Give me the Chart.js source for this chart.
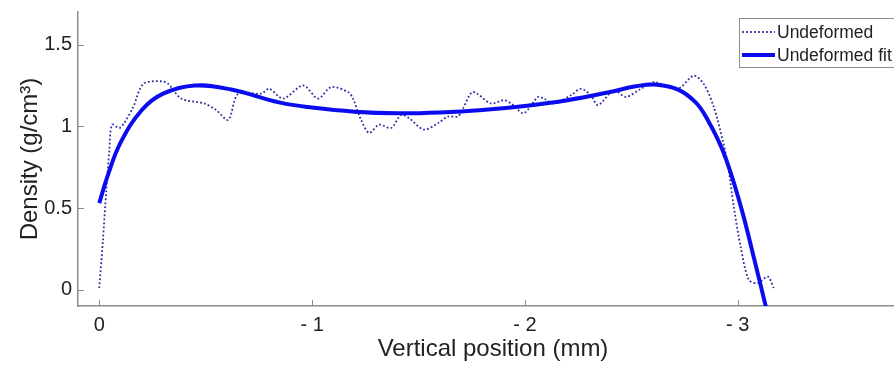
<!DOCTYPE html>
<html>
<head>
<meta charset="utf-8">
<script src="https://cdn.jsdelivr.net/npm/chart.js@4/dist/chart.umd.min.js"></script>
<style>
  html, body { margin: 0; padding: 0; background: #fff; overflow: hidden; }
  #wrap { width: 910px; height: 367px; }
</style>
</head>
<body>
<div id="wrap"><canvas id="densityChart" width="910" height="367"></canvas></div>
<script>
// vertical position (mm) and density (g/cm3)
const rawX = [0, -0.017, -0.033, -0.047, -0.06, -0.094, -0.117, -0.16, -0.207, -0.291, -0.324, -0.385,
  -0.493, -0.549, -0.606, -0.653, -0.761, -0.798, -0.864, -0.958, -1.028, -1.089, -1.169, -1.192,
  -1.23, -1.268, -1.315, -1.371, -1.418, -1.455, -1.526, -1.592, -1.638, -1.685, -1.709, -1.756,
  -1.84, -1.901, -1.934, -1.991, -2.019, -2.061, -2.089, -2.136, -2.216, -2.263, -2.31, -2.343,
  -2.418, -2.474, -2.545, -2.606, -2.718, -2.793, -2.84, -2.887, -2.93, -2.953, -2.981, -3.014,
  -3.052, -3.094, -3.141, -3.169];
const rawY = [0.01, 0.30, 0.61, 0.85, 1.01, 0.99, 1.02, 1.12, 1.26, 1.276, 1.26, 1.17,
  1.14, 1.10, 1.04, 1.20, 1.20, 1.23, 1.17, 1.25, 1.17, 1.24, 1.21, 1.17,
  1.04, 0.96, 1.01, 0.99, 1.07, 1.05, 0.98, 1.02, 1.06, 1.06, 1.11, 1.21,
  1.14, 1.16, 1.14, 1.08, 1.11, 1.18, 1.17, 1.14, 1.19, 1.23, 1.19, 1.13,
  1.22, 1.18, 1.23, 1.27, 1.23, 1.31, 1.26, 1.12, 0.91, 0.77, 0.51, 0.26,
  0.06, 0.04, 0.08, 0.01];

const fitX = [0, -0.04, -0.1, -0.2, -0.3, -0.45, -0.62, -0.85, -1.0, -1.2, -1.4, -1.6, -1.8,
  -2.0, -2.2, -2.4, -2.52, -2.62, -2.72, -2.8, -2.85, -2.93, -3.01, -3.075, -3.135];
const fitY = [0.53, 0.70, 0.90, 1.10, 1.20, 1.25, 1.225, 1.145, 1.115, 1.09, 1.08, 1.085, 1.10,
  1.125, 1.16, 1.21, 1.245, 1.255, 1.225, 1.15, 1.06, 0.85, 0.53, 0.20, -0.12];

const xTicks = [0, -1, -2, -3];
const yTicks = [0, 0.5, 1, 1.5];
const seriesNames = ["Undeformed", "Undeformed fit"];

const axisColor = "#8c8c8c";
const textColor = "#222";
const fontFamily = "'Liberation Sans', Arial, Helvetica, sans-serif";

function toPoints(xs, ys) {
    return xs.map((x, i) => ({ x: x, y: ys[i] }));
}

// little inward tick marks like the original figure
const innerTicks = {
    id: "innerTicks",
    afterDraw(chart) {
        const { ctx, chartArea } = chart;
        const xs = chart.scales.x, ys = chart.scales.y;
        ctx.save();
        ctx.strokeStyle = axisColor;
        ctx.lineWidth = 1;
        xTicks.forEach(v => {
            const px = Math.round(xs.getPixelForValue(v)) + 0.5;
            ctx.beginPath();
            ctx.moveTo(px, chartArea.bottom);
            ctx.lineTo(px, chartArea.bottom - 6);
            ctx.stroke();
        });
        yTicks.forEach(v => {
            const py = Math.round(ys.getPixelForValue(v)) + 0.5;
            ctx.beginPath();
            ctx.moveTo(chartArea.left, py);
            ctx.lineTo(chartArea.left + 6, py);
            ctx.stroke();
        });
        ctx.restore();
    }
};

// boxed legend in the top right corner
const boxLegend = {
    id: "boxLegend",
    afterDraw(chart) {
        const ctx = chart.ctx;
        const sets = chart.data.datasets;
        const left = 739, top = 18, w = 168, h = 49;
        ctx.save();
        ctx.fillStyle = "#fff";
        ctx.fillRect(left, top, w, h);
        ctx.strokeStyle = axisColor;
        ctx.lineWidth = 1;
        ctx.strokeRect(left + 0.5, top + 0.5, w, h);
        ctx.font = "17.5px " + fontFamily;
        ctx.textBaseline = "middle";
        ctx.fillStyle = textColor;
        const rows = [32, 55];
        rows.forEach((y, i) => {
            const ds = sets[i];
            ctx.beginPath();
            ctx.strokeStyle = ds.borderColor;
            ctx.lineWidth = ds.borderWidth;
            ctx.setLineDash(ds.borderDash || []);
            ctx.moveTo(742, y);
            ctx.lineTo(775, y);
            ctx.stroke();
            ctx.setLineDash([]);
            ctx.fillText(ds.label, 777, y + 1);
        });
        ctx.restore();
    }
};

const ctx = document.getElementById("densityChart").getContext("2d");

new Chart(ctx, {
    type: "line",
    data: {
        datasets: [{
            label: seriesNames[0],
            data: toPoints(rawX, rawY),
            borderColor: "#2e2ea6",
            borderWidth: 1.8,
            borderDash: [1.8, 2.2],
            pointRadius: 0,
            tension: 0.3,
            order: 1
        }, {
            label: seriesNames[1],
            data: toPoints(fitX, fitY),
            borderColor: "#0b0bef",
            borderWidth: 4,
            pointRadius: 0,
            tension: 0.4,
            order: 0
        }]
    },
    options: {
        responsive: false,
        animation: false,
        layout: { padding: { top: 12, right: 2, left: 0, bottom: 0 } },
        plugins: {
            legend: { display: false },
            tooltip: { enabled: false }
        },
        scales: {
            x: {
                type: "linear",
                reverse: true,
                min: -3.8,
                max: 0.1,
                afterFit: s => { s.height = 61; s.paddingLeft = 0; s.paddingRight = 0; },
                afterBuildTicks: s => { s.ticks = xTicks.map(v => ({ value: v })); },
                grid: { display: false, drawTicks: false },
                border: { display: true, color: axisColor, width: 1.5 },
                ticks: {
                    padding: 7,
                    color: textColor,
                    font: { family: fontFamily, size: 20 },
                    maxRotation: 0,
                    callback: v => v === 0 ? "0" : "- " + Math.abs(v)
                },
                title: {
                    display: true,
                    text: "Vertical position (mm)",
                    color: textColor,
                    font: { family: fontFamily, size: 24 },
                    padding: { top: 0, bottom: 3 }
                }
            },
            y: {
                min: -0.1,
                max: 1.7,
                afterFit: s => { s.width = 78; s.paddingTop = 0; s.paddingBottom = 0; },
                afterBuildTicks: s => { s.ticks = yTicks.map(v => ({ value: v })); },
                grid: { display: false, drawTicks: false },
                border: { display: true, color: axisColor, width: 1.5 },
                ticks: {
                    padding: 6,
                    color: textColor,
                    font: { family: fontFamily, size: 20 },
                    callback: v => String(v)
                },
                title: {
                    display: true,
                    text: "Density (g/cm³)",
                    color: textColor,
                    font: { family: fontFamily, size: 24 },
                    padding: { top: 16, bottom: 0 }
                }
            }
        }
    },
    plugins: [innerTicks, boxLegend]
});
</script>
</body>
</html>
